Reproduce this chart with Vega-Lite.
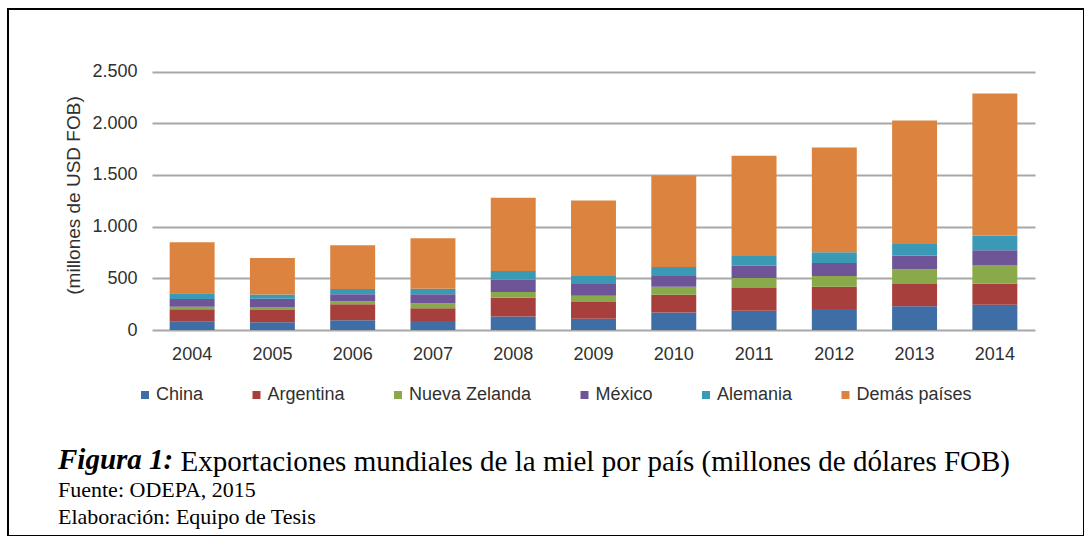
{
  "$schema": "https://vega.github.io/schema/vega-lite/v6.json",
  "width": 1076,
  "height": 527,
  "autosize": {"type": "none"},
  "padding": {"left": 8, "top": 9, "right": 0, "bottom": 0},
  "background": "white",
  "title": {
    "text": "Figura 1:",
    "orient": "bottom",
    "anchor": "start",
    "frame": "group",
    "offset": -67,
    "dx": 50,
    "baseline": "alphabetic",
    "font": "Liberation Serif",
    "fontSize": 29,
    "fontStyle": "italic",
    "fontWeight": "bold",
    "color": "black",
    "subtitle": ["Fuente: ODEPA, 2015", "Elaboración: Equipo de Tesis"],
    "subtitleFont": "Liberation Serif",
    "subtitleFontSize": 22,
    "subtitleColor": "black",
    "subtitleLineHeight": 27,
    "subtitlePadding": -1
  },
  "data": {
    "values": [
      {"anio": "2004", "pais": "China", "orden": 1, "valor": 80},
      {"anio": "2004", "pais": "Argentina", "orden": 2, "valor": 120},
      {"anio": "2004", "pais": "Nueva Zelanda", "orden": 3, "valor": 26},
      {"anio": "2004", "pais": "México", "orden": 4, "valor": 74},
      {"anio": "2004", "pais": "Alemania", "orden": 5, "valor": 55},
      {"anio": "2004", "pais": "Demás países", "orden": 6, "valor": 494},
      {"anio": "2005", "pais": "China", "orden": 1, "valor": 75},
      {"anio": "2005", "pais": "Argentina", "orden": 2, "valor": 118},
      {"anio": "2005", "pais": "Nueva Zelanda", "orden": 3, "valor": 30},
      {"anio": "2005", "pais": "México", "orden": 4, "valor": 80},
      {"anio": "2005", "pais": "Alemania", "orden": 5, "valor": 40},
      {"anio": "2005", "pais": "Demás países", "orden": 6, "valor": 354},
      {"anio": "2006", "pais": "China", "orden": 1, "valor": 95},
      {"anio": "2006", "pais": "Argentina", "orden": 2, "valor": 153},
      {"anio": "2006", "pais": "Nueva Zelanda", "orden": 3, "valor": 30},
      {"anio": "2006", "pais": "México", "orden": 4, "valor": 67},
      {"anio": "2006", "pais": "Alemania", "orden": 5, "valor": 52},
      {"anio": "2006", "pais": "Demás países", "orden": 6, "valor": 423},
      {"anio": "2007", "pais": "China", "orden": 1, "valor": 87},
      {"anio": "2007", "pais": "Argentina", "orden": 2, "valor": 123},
      {"anio": "2007", "pais": "Nueva Zelanda", "orden": 3, "valor": 48},
      {"anio": "2007", "pais": "México", "orden": 4, "valor": 88},
      {"anio": "2007", "pais": "Alemania", "orden": 5, "valor": 54},
      {"anio": "2007", "pais": "Demás países", "orden": 6, "valor": 488},
      {"anio": "2008", "pais": "China", "orden": 1, "valor": 130},
      {"anio": "2008", "pais": "Argentina", "orden": 2, "valor": 183},
      {"anio": "2008", "pais": "Nueva Zelanda", "orden": 3, "valor": 55},
      {"anio": "2008", "pais": "México", "orden": 4, "valor": 120},
      {"anio": "2008", "pais": "Alemania", "orden": 5, "valor": 82},
      {"anio": "2008", "pais": "Demás países", "orden": 6, "valor": 710},
      {"anio": "2009", "pais": "China", "orden": 1, "valor": 110},
      {"anio": "2009", "pais": "Argentina", "orden": 2, "valor": 161},
      {"anio": "2009", "pais": "Nueva Zelanda", "orden": 3, "valor": 61},
      {"anio": "2009", "pais": "México", "orden": 4, "valor": 113},
      {"anio": "2009", "pais": "Alemania", "orden": 5, "valor": 78},
      {"anio": "2009", "pais": "Demás países", "orden": 6, "valor": 729},
      {"anio": "2010", "pais": "China", "orden": 1, "valor": 170},
      {"anio": "2010", "pais": "Argentina", "orden": 2, "valor": 172},
      {"anio": "2010", "pais": "Nueva Zelanda", "orden": 3, "valor": 77},
      {"anio": "2010", "pais": "México", "orden": 4, "valor": 104},
      {"anio": "2010", "pais": "Alemania", "orden": 5, "valor": 87},
      {"anio": "2010", "pais": "Demás países", "orden": 6, "valor": 884},
      {"anio": "2011", "pais": "China", "orden": 1, "valor": 187},
      {"anio": "2011", "pais": "Argentina", "orden": 2, "valor": 218},
      {"anio": "2011", "pais": "Nueva Zelanda", "orden": 3, "valor": 97},
      {"anio": "2011", "pais": "México", "orden": 4, "valor": 120},
      {"anio": "2011", "pais": "Alemania", "orden": 5, "valor": 93},
      {"anio": "2011", "pais": "Demás países", "orden": 6, "valor": 970},
      {"anio": "2012", "pais": "China", "orden": 1, "valor": 203},
      {"anio": "2012", "pais": "Argentina", "orden": 2, "valor": 216},
      {"anio": "2012", "pais": "Nueva Zelanda", "orden": 3, "valor": 104},
      {"anio": "2012", "pais": "México", "orden": 4, "valor": 126},
      {"anio": "2012", "pais": "Alemania", "orden": 5, "valor": 103},
      {"anio": "2012", "pais": "Demás países", "orden": 6, "valor": 1013},
      {"anio": "2013", "pais": "China", "orden": 1, "valor": 229},
      {"anio": "2013", "pais": "Argentina", "orden": 2, "valor": 216},
      {"anio": "2013", "pais": "Nueva Zelanda", "orden": 3, "valor": 142},
      {"anio": "2013", "pais": "México", "orden": 4, "valor": 133},
      {"anio": "2013", "pais": "Alemania", "orden": 5, "valor": 112},
      {"anio": "2013", "pais": "Demás países", "orden": 6, "valor": 1194},
      {"anio": "2014", "pais": "China", "orden": 1, "valor": 245},
      {"anio": "2014", "pais": "Argentina", "orden": 2, "valor": 203},
      {"anio": "2014", "pais": "Nueva Zelanda", "orden": 3, "valor": 181},
      {"anio": "2014", "pais": "México", "orden": 4, "valor": 142},
      {"anio": "2014", "pais": "Alemania", "orden": 5, "valor": 142},
      {"anio": "2014", "pais": "Demás países", "orden": 6, "valor": 1375}
    ]
  },
  "mark": {"type": "bar"},
  "encoding": {
    "x": {
      "field": "anio",
      "type": "ordinal",
      "scale": {"range": [144, 1027], "paddingInner": 0.44, "paddingOuter": 0.22},
      "axis": {
        "title": "Exportaciones mundiales de la miel por país (millones de dólares FOB)",
        "offset": -206,
        "domain": false,
        "ticks": false,
        "tickSize": 0,
        "grid": false,
        "labelAngle": 0,
        "labelFont": "Liberation Sans",
        "labelFontSize": 18,
        "labelColor": "#303030",
        "labelPadding": 15,
        "titleFont": "Liberation Serif",
        "titleFontSize": 29,
        "titleFontWeight": "normal",
        "titleColor": "black",
        "titleX": 172,
        "titleY": 140,
        "titleAlign": "left",
        "titleBaseline": "alphabetic",
        "titleLimit": 0
      }
    },
    "y": {
      "field": "valor",
      "type": "quantitative",
      "stack": "zero",
      "scale": {"domain": [0, 2500], "range": [321, 62.5], "nice": false},
      "axis": {
        "title": "(millones de USD FOB)",
        "offset": -144,
        "values": [0, 500, 1000, 1500, 2000, 2500],
        "labelExpr": "replace(format(datum.value, ','), ',', '.')",
        "domain": false,
        "ticks": false,
        "tickSize": 0,
        "grid": true,
        "gridColor": "#A8A8A8",
        "gridWidth": 1.8,
        "labelPadding": 15,
        "labelFont": "Liberation Sans",
        "labelFontSize": 18,
        "labelColor": "#303030",
        "titleFont": "Liberation Sans",
        "titleFontSize": 19,
        "titleFontWeight": "normal",
        "titleColor": "#303030",
        "titleAngle": -90,
        "titleX": -79,
        "titleY": 186,
        "titleBaseline": "middle",
        "titleAlign": "center"
      }
    },
    "color": {
      "field": "pais",
      "type": "nominal",
      "scale": {
        "domain": ["China", "Argentina", "Nueva Zelanda", "México", "Alemania", "Demás países"],
        "range": ["#3F6EA6", "#A7403D", "#89A94A", "#6E5597", "#3A9AB6", "#DC843F"]
      },
      "legend": {
        "orient": "none",
        "legendX": 128,
        "legendY": 377,
        "direction": "horizontal",
        "title": null,
        "symbolType": "square",
        "symbolSize": 64,
        "symbolStrokeWidth": 0,
        "labelFont": "Liberation Sans",
        "labelFontSize": 18,
        "labelColor": "#303030",
        "labelOffset": 2,
        "columnPadding": 43.5,
        "padding": 0
      }
    },
    "order": {"field": "orden", "type": "quantitative"}
  },
  "config": {
    "view": {"stroke": "black", "strokeWidth": 2}
  }
}
